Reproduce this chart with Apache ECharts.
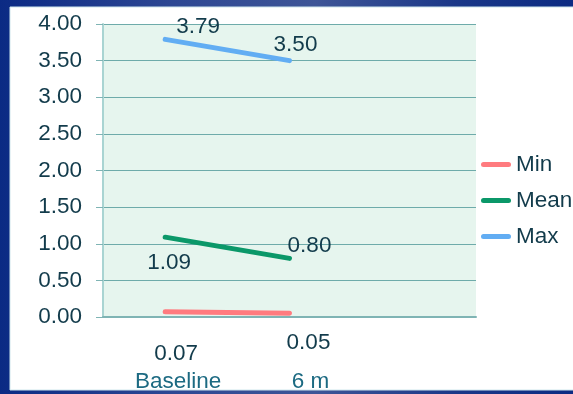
<!DOCTYPE html>
<html>
<head>
<meta charset="utf-8">
<script src="https://cdn.jsdelivr.net/npm/echarts@6/dist/echarts.min.js"></script>
<style>
  html, body { margin: 0; padding: 0; }
  body {
    width: 573px; height: 394px; overflow: hidden;
    background: linear-gradient(90deg, #0b2a84 0%, #2d4793 30%, #3e5597 55%, #1a3788 80%, #0c2b83 100%);
  }
  #chart { width: 573px; height: 394px; }
</style>
</head>
<body>
<div id="chart"></div>
<script>
// Time points and measured values per statistic
const categories = ["Baseline", "6 m"];
const minValues  = [0.07, 0.05];
const meanValues = [1.09, 0.80];
const maxValues  = [3.79, 3.50];
const yTicks = [0, 0.5, 1, 1.5, 2, 2.5, 3, 3.5, 4];

// Label placement around each point (pixels, relative to the point)
const labelOffsets = {
  Min:  [[11, 42], [19, 29]],
  Mean: [[4, 26], [20, -13]],
  Max:  [[33, -13], [6, -16]]
};
// Horizontal nudge of each category label
const catShift = [26, 42];

const FONT = "'Liberation Sans', Arial, sans-serif";
const TXT = "#123b4b";
const FS = 22.5;

function makeSeries(name, values, color) {
  return {
    name: name,
    type: "line",
    symbol: "circle",
    symbolSize: 0.01,
    showSymbol: true,
    lineStyle: { color: color, width: 5, cap: "round" },
    itemStyle: { color: color },
    label: { show: true },
    data: values.map((v, i) => ({
      value: v,
      label: {
        show: true,
        position: "inside",
        offset: labelOffsets[name][i],
        formatter: p => Number(p.value).toFixed(2),
        fontFamily: FONT, fontSize: FS, color: TXT
      }
    }))
  };
}

const chart = echarts.init(document.getElementById("chart"), null, { renderer: "canvas" });

const rich = {};
catShift.forEach((s, i) => {
  rich["c" + i] = { padding: [0, 0, 0, s], fontFamily: FONT, fontSize: FS, color: "#1c6a82" };
});

const pill = "path://M2.5,0 H27.5 A2.5,2.5 0 0 1 27.5,5 H2.5 A2.5,2.5 0 0 1 2.5,0 Z";

chart.setOption({
  animation: false,
  backgroundColor: "transparent",
  graphic: [{
    type: "rect",
    z: -10,
    shape: { x: 10, y: 7, width: 564, height: 383 },
    style: { fill: "#ffffff", stroke: "#cfe6ec", lineWidth: 1 }
  }],
  grid: { left: 103, top: 24, right: 97, bottom: 77, show: true, backgroundColor: "#e6f5ee", borderWidth: 0 },
  legend: {
    orient: "vertical",
    left: 476, top: 148,
    itemWidth: 30, itemHeight: 5, itemGap: 13,
    icon: pill,
    textStyle: { fontFamily: FONT, fontSize: FS, color: TXT, lineHeight: 22 },
    data: ["Min", "Mean", "Max"]
  },
  xAxis: {
    type: "category",
    boundaryGap: true,
    data: categories.concat([""]),
    axisLine: { lineStyle: { color: "#7fb4b4", width: 2 } },
    axisTick: { show: false },
    axisLabel: {
      margin: 53,
      interval: 0,
      formatter: (v, i) => v ? "{c" + i + "|" + v + "}" : "",
      rich: rich
    }
  },
  yAxis: {
    type: "value",
    min: yTicks[0], max: yTicks[yTicks.length - 1], interval: 0.5,
    axisLine: { show: true, lineStyle: { color: "#a9d4d2", width: 2 } },
    axisTick: { show: true, length: 7, lineStyle: { color: "#7fb4b4" } },
    splitLine: { lineStyle: { color: "#6eabaa", width: 1 } },
    axisLabel: {
      margin: 21,
      fontFamily: FONT, fontSize: FS, color: TXT,
      formatter: v => v.toFixed(2)
    }
  },
  series: [
    makeSeries("Min", minValues, "#ff7b7f"),
    makeSeries("Mean", meanValues, "#0b9869"),
    makeSeries("Max", maxValues, "#62adf3")
  ]
});
</script>
</body>
</html>
